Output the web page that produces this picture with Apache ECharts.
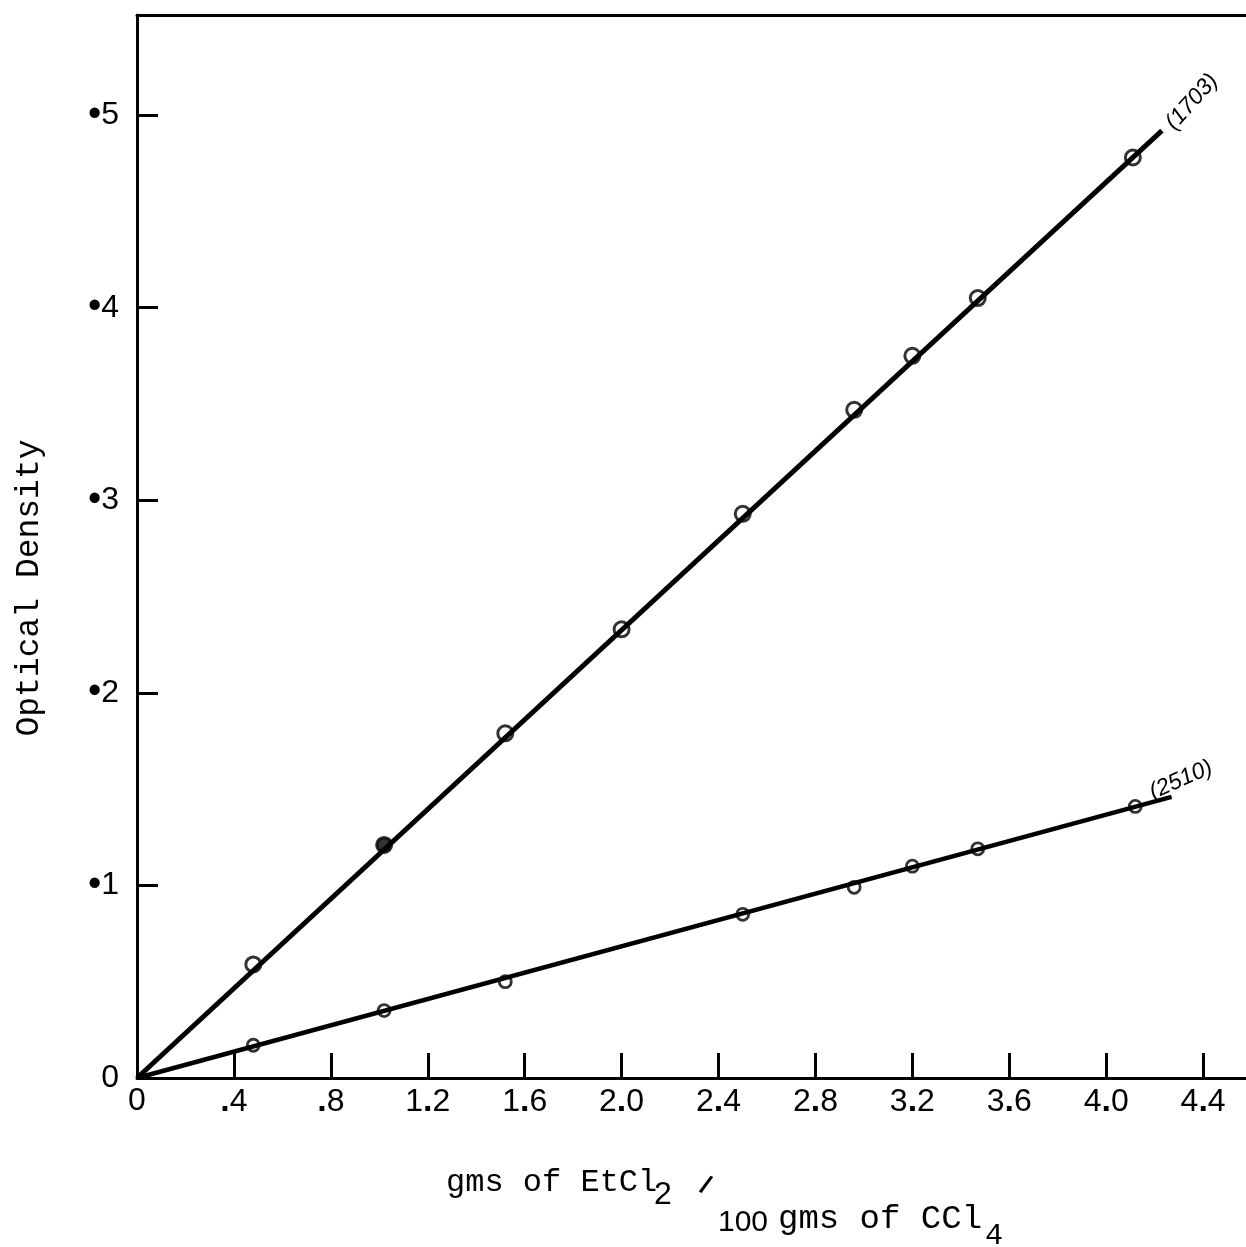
<!DOCTYPE html>
<html>
<head>
<meta charset="utf-8">
<script src="https://cdn.jsdelivr.net/npm/echarts@6/dist/echarts.min.js"></script>
<style>
html,body{margin:0;padding:0;background:#fff;}
#c{width:1246px;height:1247px;}
</style>
</head>
<body>
<div id="c"></div>
<script>
// ---- data ----
const xTicks = [0.4, 0.8, 1.2, 1.6, 2.0, 2.4, 2.8, 3.2, 3.6, 4.0, 4.4];
const xLabelValues = [0, 0.4, 0.8, 1.2, 1.6, 2.0, 2.4, 2.8, 3.2, 3.6, 4.0, 4.4];
const yTicks = [0.1, 0.2, 0.3, 0.4, 0.5];
const yLabelValues = [0, 0.1, 0.2, 0.3, 0.4, 0.5];

// band 1703 measured points (gms EtCl2 / 100 gms CCl4, optical density)
const pts1703 = [[0.48,0.059],[1.02,0.121],[1.52,0.179],[2.00,0.233],[2.50,0.293],[2.96,0.347],[3.20,0.375],[3.47,0.405],[4.11,0.478]];
// drawn straight line for band 1703
const line1703 = [[0,0],[4.23,0.492]];
// band 2510 measured points
const pts2510 = [[0.48,0.017],[1.02,0.035],[1.52,0.050],[2.50,0.085],[2.96,0.099],[3.20,0.110],[3.47,0.119],[4.12,0.141]];
// drawn straight line for band 2510
const line2510 = [[0,0],[4.27,0.146]];
const filled1703 = [1]; // index of the point drawn filled

const seriesNames = ['(1703)', '(2510)'];

const MONO = '"Liberation Mono", "DejaVu Sans Mono", monospace';
const SANS = '"Liberation Sans", Arial, sans-serif';

const chart = echarts.init(document.getElementById('c'), null, {renderer: 'canvas'});

function xFmt(v) {
  if (v === 0) return '0';
  const s = v.toFixed(1);
  if (v < 1) return '{d|.}' + s.split('.')[1];
  const p = s.split('.');
  return p[0] + '{d|.}' + p[1];
}
function yFmt(v) {
  if (v === 0) return '0';
  return '{b|•}' + Math.round(v * 10);
}

const option = {
  backgroundColor: '#fff',
  animation: false,
  grid: {left: 137, right: 0, top: 15, bottom: 169, containLabel: false, outerBoundsMode: 'none'},
  xAxis: [{
    type: 'value', min: 0, max: 4.577, position: 'bottom',
    axisLine: {show: true, onZero: false, lineStyle: {color: '#000', width: 3}},
    axisTick: {show: true, inside: true, length: 25, lineStyle: {color: '#000', width: 3}, customValues: xTicks},
    axisLabel: {show: true, margin: 7, color: '#000', fontSize: 32, fontFamily: SANS, customValues: xLabelValues,
      formatter: xFmt, rich: {d: {fontSize: 34, fontWeight: 'bold', fontFamily: SANS, color: '#000'}}},
    splitLine: {show: false}
  }, {
    type: 'value', min: 0, max: 4.577, position: 'top',
    axisLine: {show: true, onZero: false, lineStyle: {color: '#000', width: 3}},
    axisTick: {show: false}, axisLabel: {show: false}, splitLine: {show: false}
  }],
  yAxis: {
    type: 'value', min: 0, max: 0.552,
    axisLine: {show: true, onZero: false, lineStyle: {color: '#000', width: 3}},
    axisTick: {show: true, inside: true, length: 21, lineStyle: {color: '#000', width: 3}, customValues: yTicks},
    axisLabel: {show: true, margin: 18, color: '#000', fontSize: 32, fontFamily: SANS, customValues: yLabelValues,
      formatter: yFmt, rich: {b: {fontSize: 38, fontFamily: SANS, color: '#000'}}},
    splitLine: {show: false}
  },
  series: [
    {name: seriesNames[0], type: 'line', data: line1703, symbol: 'none', lineStyle: {color: '#000', width: 5}, z: 2},
    {name: seriesNames[1], type: 'line', data: line2510, symbol: 'none', lineStyle: {color: '#000', width: 4.5}, z: 2},
    {type: 'scatter', data: pts1703.map((p, i) => filled1703.includes(i)
        ? {value: p, itemStyle: {color: '#000'}} : {value: p}),
     symbol: 'circle', symbolSize: 15,
     itemStyle: {color: 'rgba(0,0,0,0)', borderColor: '#000', borderWidth: 3}, z: 3},
    {type: 'scatter', data: pts2510, symbol: 'circle', symbolSize: 12,
     itemStyle: {color: 'rgba(0,0,0,0)', borderColor: '#000', borderWidth: 2.8}, z: 3}
  ],
  graphic: [
    {type: 'text', x: 29, y: 588, rotation: Math.PI / 2,
     style: {text: 'Optical Density', font: '33px ' + MONO, fill: '#000', align: 'center', verticalAlign: 'middle'}},
    {type: 'text', x: 446, y: 1183,
     style: {text: 'gms of EtCl', font: '32px ' + MONO, fill: '#000', align: 'left', verticalAlign: 'middle'}},
    {type: 'text', x: 654, y: 1195,
     style: {text: '2', font: '32px ' + SANS, fill: '#000', align: 'left', verticalAlign: 'middle'}},
    {type: 'text', x: 705, y: 1186, rotation: -0.45,
     style: {text: '/', font: 'bold 26px ' + SANS, fill: '#000', align: 'center', verticalAlign: 'middle'}},
    {type: 'text', x: 718, y: 1223,
     style: {text: '100', font: '30px ' + SANS, fill: '#000', align: 'left', verticalAlign: 'middle'}},
    {type: 'text', x: 778, y: 1219,
     style: {text: 'gms of CCl', font: '34px ' + MONO, fill: '#000', align: 'left', verticalAlign: 'middle'}},
    {type: 'text', x: 985, y: 1236,
     style: {text: '4', font: '30px ' + MONO, fill: '#000', align: 'left', verticalAlign: 'middle'}},
    {type: 'text', x: 1192, y: 102, rotation: 48 * Math.PI / 180,
     style: {text: seriesNames[0], font: 'italic 23px ' + SANS, fill: '#000', align: 'center', verticalAlign: 'middle'}},
    {type: 'text', x: 1181, y: 780, rotation: 24 * Math.PI / 180,
     style: {text: seriesNames[1], font: 'italic 23px ' + SANS, fill: '#000', align: 'center', verticalAlign: 'middle'}}
  ]
};
chart.setOption(option);
</script>
</body>
</html>
